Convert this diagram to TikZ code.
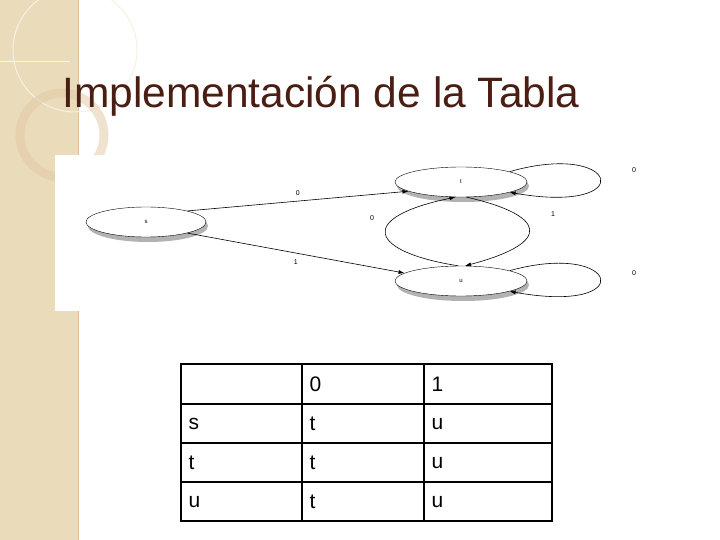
\documentclass[tikz,border=0pt]{standalone}
\usepackage{fontspec}
\setmainfont{Liberation Sans}
\usetikzlibrary{arrows.meta,shapes.geometric}
\definecolor{beige}{HTML}{EADBBB}
\definecolor{titlec}{HTML}{4A1E12}
\begin{document}
\begin{tikzpicture}[x=1pt,y=-1pt,
 st/.style={draw,ellipse,minimum width=132pt,minimum height=30pt,inner sep=0pt,font=\fontsize{6}{7}\selectfont,fill=white},
 ed/.style={-{Latex[length=6pt,width=4pt]},line width=0.6pt},
 lab/.style={font=\fontsize{7}{8}\selectfont},
 cell/.style={font=\fontsize{21}{24}\selectfont,anchor=west}]
\useasboundingbox (0,0) rectangle (720,540);
\fill[white] (0,0) rectangle (720,540);
\fill[beige] (0,0) rectangle (78,540);
\draw[beige!70!brown,line width=0.8pt] (78,0) -- (78,540);
\draw[white!60!beige,line width=1pt] (75,50) circle (62);
\draw[beige!80!brown,line width=9pt,opacity=0.5] (62,135) circle (42);
\draw[white!70!beige,line width=1pt] (0,62) -- (70,62);
\node[anchor=base west,text=titlec,font=\fontsize{42.5}{50}\selectfont,inner sep=0pt] (title) at (62,108) {Implementación de la Tabla};
\fill[white] (55,155) rectangle (642,311);
% states
\fill[gray!60] (148,226) ellipse (60 and 16);
\fill[gray!60] (463,186) ellipse (66 and 16);
\fill[gray!60] (463,285) ellipse (66 and 16);
\node[st,minimum width=120pt] (s) at (146,222) {s};
\node[st] (t) at (461,182) {t};
\node[st] (u) at (461,281) {u};
\draw[ed] (s.15) -- (t.190) node[lab,midway,above=2pt] {0};
\draw[ed] (s.-15) -- (u.172) node[lab,midway,below=3pt] {1};
\draw[ed] (u.100) .. controls (370,252) and (355,218) .. (t.250);
\node[lab] (l0) at (372,218) {0};
\draw[ed] (t.-70) .. controls (545,215) and (555,242) .. (u.75);
\node[lab] (l1) at (553,214) {1};
\draw[ed] (t.12) .. controls (620,140) and (640,215) .. (t.-12);
\node[lab] (l2) at (634,170) {0};
\draw[ed] (u.12) .. controls (620,240) and (640,315) .. (u.-12);
\node[lab] (l3) at (634,273) {0};
% table
\draw[line width=1.5pt] (181,364) rectangle (552,521);
\foreach \y in {404,443,482} \draw[line width=1.5pt] (181,\y) -- (552,\y);
\foreach \x in {302,424} \draw[line width=1.5pt] (\x,364) -- (\x,521);
\node[cell] (c01) at (306,384) {0};
\node[cell] (c02) at (428,384) {1};
\node[cell] (c10) at (185,424) {s};
\node[cell] (c11) at (306,424) {t};
\node[cell] (c12) at (428,424) {u};
\node[cell] (c20) at (185,463) {t};
\node[cell] (c21) at (306,463) {t};
\node[cell] (c22) at (428,463) {u};
\node[cell] (c30) at (185,502) {u};
\node[cell] (c31) at (306,502) {t};
\node[cell] (c32) at (428,502) {u};
\end{tikzpicture}
\end{document}
